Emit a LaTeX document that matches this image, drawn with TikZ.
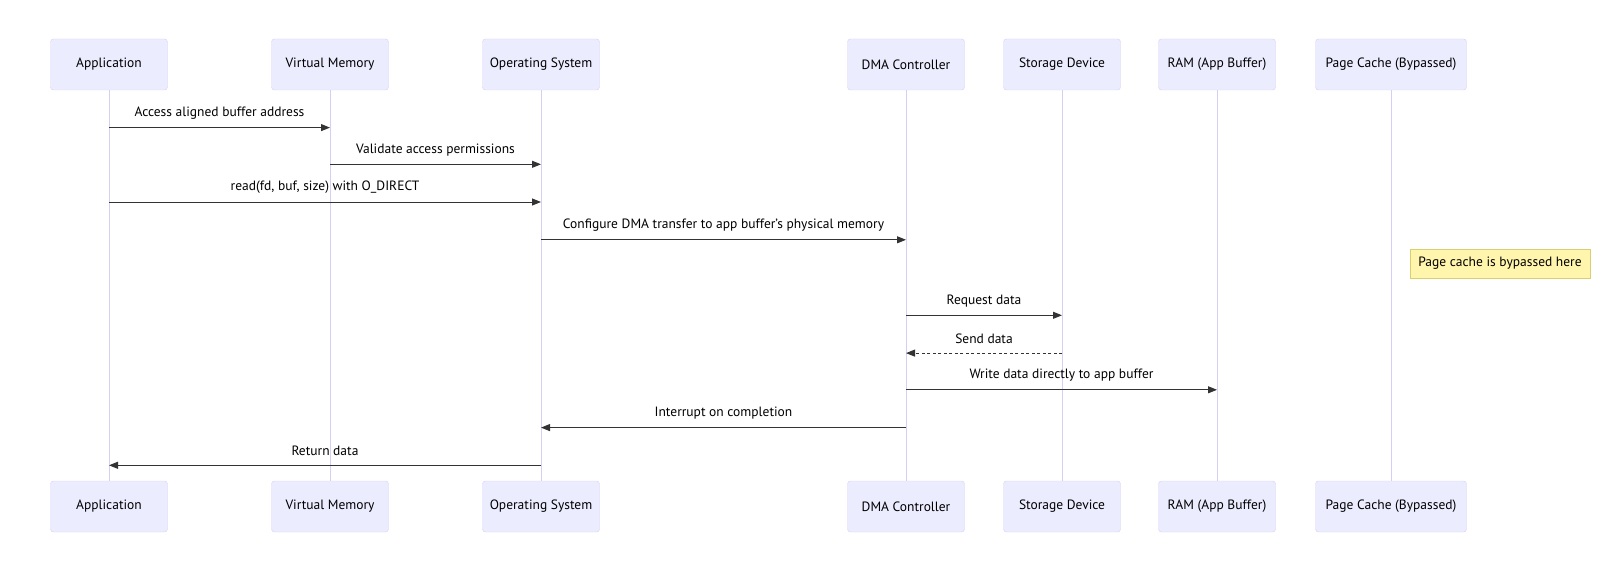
\documentclass[tikz,border=0pt]{standalone}
\usepackage{fontspec}
\setmainfont{PT Sans}
\usetikzlibrary{arrows.meta}
\definecolor{actorfill}{HTML}{ECECFF}
\definecolor{actorline}{HTML}{D6CFF4}
\definecolor{notefill}{HTML}{FFF5AD}
\definecolor{noteline}{HTML}{D8D070}
\definecolor{msgcol}{HTML}{333333}

\begin{document}
\begin{tikzpicture}[x=1pt,y=-1pt,
    font=\fontsize{13.5}{16}\selectfont,
    block_actor/.style ={rectangle, draw=actorline, fill=actorfill,
      rounded corners=3pt, minimum width=117pt, minimum height=51pt,
      text centered, inner sep=2pt},
    block_wide/.style ={block_actor, minimum width=151pt},
    block_note/.style ={rectangle, draw=noteline, fill=notefill,
      minimum width=180pt, minimum height=29pt, inner sep=2pt},
    lifeline/.style ={draw=actorline, line width=1pt},
    line/.style ={draw=msgcol, line width=1pt,
      -{Triangle[length=9pt,width=7pt]}, shorten >=0pt},
    reply/.style ={line, dash pattern=on 3pt off 2.5pt},
    msg/.style ={midway, yshift=14.5pt, text=black, inner sep=0pt}]
    \useasboundingbox (0,0) rectangle (1600,575);
    % participants, top row
    \node [block_actor] (app)   at (109,64.5)  {Application};
    \node [block_actor] (vmem)  at (330,64.5)  {Virtual Memory};
    \node [block_actor] (os)    at (541,64.5)  {Operating System};
    \node [block_actor] (dma)   at (906,64.5)  {DMA Controller};
    \node [block_actor] (disk)  at (1062,64.5) {Storage Device};
    \node [block_actor] (ram)   at (1217,64.5) {RAM (App Buffer)};
    \node [block_wide]  (cache) at (1391,64.5) {Page Cache (Bypassed)};
    % participants, bottom row
    \node [block_actor] (app2)   at (109,506.5)  {Application};
    \node [block_actor] (vmem2)  at (330,506.5)  {Virtual Memory};
    \node [block_actor] (os2)    at (541,506.5)  {Operating System};
    \node [block_actor] (dma2)   at (906,506.5)  {DMA Controller};
    \node [block_actor] (disk2)  at (1062,506.5) {Storage Device};
    \node [block_actor] (ram2)   at (1217,506.5) {RAM (App Buffer)};
    \node [block_wide]  (cache2) at (1391,506.5) {Page Cache (Bypassed)};
    % lifelines
    \begin{scope}[every path/.style=lifeline]
      \path (app)   -- (app2);
      \path (vmem)  -- (vmem2);
      \path (os)    -- (os2);
      \path (dma)   -- (dma2);
      \path (disk)  -- (disk2);
      \path (ram)   -- (ram2);
      \path (cache) -- (cache2);
    \end{scope}
    % note
    \node [block_note] (note) at (1500,263.5) {Page cache is bypassed here};
    % message rows
    \coordinate (m1) at (0,127.6);
    \coordinate (m2) at (0,164.3);
    \coordinate (m3) at (0,202);
    \coordinate (m4) at (0,239.8);
    \coordinate (m5) at (0,315.3);
    \coordinate (m6) at (0,353.1);
    \coordinate (m7) at (0,389.8);
    \coordinate (m8) at (0,427.6);
    \coordinate (m9) at (0,465.3);
    % messages
    \path[line] (app |- m1) -- (vmem |- m1) node[msg] {Access aligned buffer address};
    \path[line] (vmem |- m2) -- (os |- m2) node[msg] {Validate access permissions};
    \path[line] (app |- m3) -- (os |- m3) node[msg] {read(fd, buf, size) with O\_DIRECT};
    \path[line] (os |- m4) -- (dma |- m4) node[msg] {Configure DMA transfer to app buffer's physical memory};
    \path[line] (dma |- m5) -- (disk |- m5) node[msg] {Request data};
    \path[reply] (disk |- m6) -- (dma |- m6) node[msg] {Send data};
    \path[line] (dma |- m7) -- (ram |- m7) node[msg] {Write data directly to app buffer};
    \path[line] (dma |- m8) -- (os |- m8) node[msg] {Interrupt on completion};
    \path[line] (os |- m9) -- (app |- m9) node[msg] {Return data};
  \end{tikzpicture}
\end{document}
